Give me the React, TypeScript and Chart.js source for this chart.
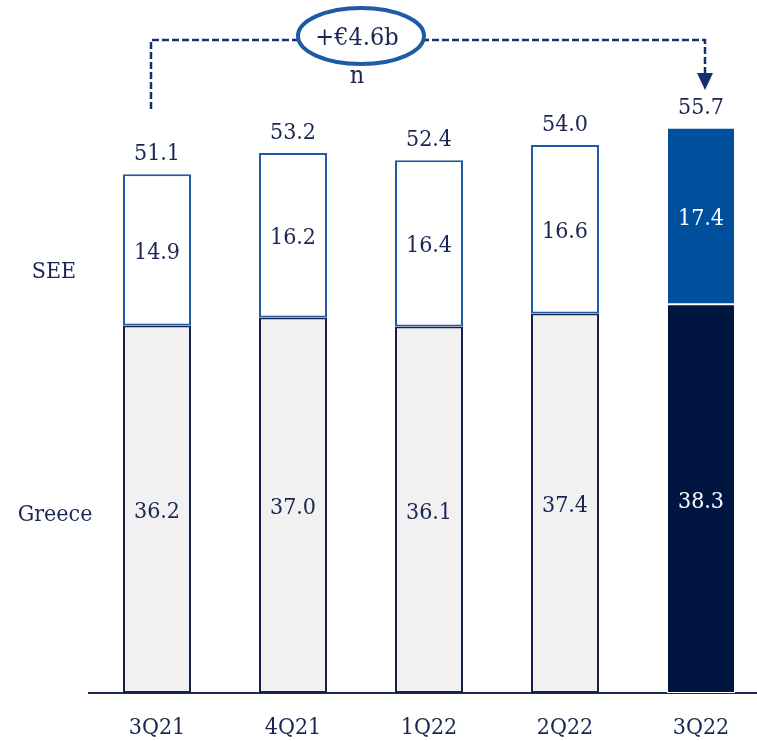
import React, { useEffect, useRef } from "react";
import { Chart, registerables } from "chart.js";
Chart.register(...registerables);

const categories = ["3Q21", "4Q21", "1Q22", "2Q22", "3Q22"];
const greece = [36.2, 37.0, 36.1, 37.4, 38.3];
const see = [14.9, 16.2, 16.4, 16.6, 17.4];
const totals = ["51.1", "53.2", "52.4", "54.0", "55.7"];
const seriesNames = ["Greece", "SEE"];
const changeLabel = "+€4.6b";
const changeLabelWrap = "n";

const NAVY = "#1b2553";
const FAMILY = "'DejaVu Serif Condensed', 'DejaVu Serif'";
const FONT = "23px " + FAMILY;
const last = categories.length - 1;

const labelsPlugin = {
  id: "labelsPlugin",
  afterDatasetsDraw(chart: any) {
    const ctx = chart.ctx;
    const y = chart.scales.y;
    ctx.save();
    ctx.font = FONT;
    ctx.textAlign = "center";
    ctx.textBaseline = "middle";
    chart.data.datasets.forEach((ds: any, di: number) => {
      const meta = chart.getDatasetMeta(di);
      meta.data.forEach((el: any, i: number) => {
        ctx.fillStyle = i === last ? "#ffffff" : NAVY;
        ctx.fillText(Number(ds.data[i]).toFixed(1), el.x, (el.y + el.base) / 2 + 3);
        if (di === chart.data.datasets.length - 1) {
          ctx.fillStyle = NAVY;
          ctx.fillText(totals[i], el.x, el.y - 20);
        }
      });
    });
    ctx.fillStyle = NAVY;
    ctx.fillText(seriesNames[1], 54, y.getPixelForValue(41.5));
    ctx.fillText(seriesNames[0], 55, y.getPixelForValue(17.5));
    ctx.restore();
  },
  afterDraw(chart: any) {
    const ctx = chart.ctx;
    const x = chart.scales.x;
    const x0 = x.getPixelForValue(0) - 6;
    const x1 = x.getPixelForValue(last) + 4;
    const lineY = 40;
    ctx.save();
    ctx.strokeStyle = "#15306b";
    ctx.lineWidth = 2.5;
    ctx.setLineDash([7, 3]);
    ctx.beginPath();
    ctx.moveTo(x0, 109);
    ctx.lineTo(x0, lineY);
    ctx.lineTo(x1, lineY);
    ctx.lineTo(x1, 74);
    ctx.stroke();
    ctx.setLineDash([]);
    ctx.fillStyle = "#15306b";
    ctx.beginPath();
    ctx.moveTo(x1 - 8, 73);
    ctx.lineTo(x1 + 8, 73);
    ctx.lineTo(x1, 90);
    ctx.closePath();
    ctx.fill();
    const cx = 361, cy = 36;
    ctx.beginPath();
    ctx.ellipse(cx, cy, 63, 28, 0, 0, Math.PI * 2);
    ctx.fillStyle = "#ffffff";
    ctx.fill();
    ctx.lineWidth = 4;
    ctx.strokeStyle = "#1f5aa5";
    ctx.stroke();
    ctx.fillStyle = NAVY;
    ctx.font = "25px " + FAMILY;
    ctx.textAlign = "center";
    ctx.textBaseline = "middle";
    ctx.fillText(changeLabel, cx - 4, cy + 2);
    ctx.fillText(changeLabelWrap, cx - 4, 76);
    ctx.restore();
  },
};

export default function App() {
  const ref = useRef<HTMLCanvasElement>(null);
  useEffect(() => {
    document.body.style.margin = "0";
    document.body.style.overflow = "hidden";
    const canvas = ref.current!;
    const chart = new Chart(canvas, {
      type: "bar",
      data: {
        labels: categories,
        datasets: [
          {
            label: seriesNames[0],
            data: greece,
            backgroundColor: categories.map((_, i) => (i === last ? "#00153f" : "#f1f1f1")),
            borderColor: categories.map((_, i) => (i === last ? "#ffffff" : "#15204d")),
            borderWidth: categories.map((_, i) => (i === last ? 1 : 2)),
            borderSkipped: false,
            barPercentage: 0.5,
            categoryPercentage: 1,
          },
          {
            label: seriesNames[1],
            data: see,
            backgroundColor: categories.map((_, i) => (i === last ? "#004f9c" : "#ffffff")),
            borderColor: categories.map((_, i) => (i === last ? "#ffffff" : "#1f5aa5")),
            borderWidth: categories.map((_, i) => (i === last ? 1 : 2)),
            borderSkipped: false,
            barPercentage: 0.5,
            categoryPercentage: 1,
          },
        ],
      },
      options: {
        animation: false,
        responsive: false,
        devicePixelRatio: 1,
        layout: { padding: { left: 89, right: 11, top: 84, bottom: 0 } },
        plugins: { legend: { display: false }, tooltip: { enabled: false } },
        scales: {
          x: {
            stacked: true,
            grid: { display: false, drawTicks: false },
            border: { display: true, color: "#1d2b55", width: 2 },
            ticks: { color: NAVY, font: { family: FAMILY, size: 23 }, padding: 21 },
            afterFit: (s: any) => {
              s.height = 48;
            },
          },
          y: { stacked: true, display: false, min: 0, max: 60 },
        },
      },
      plugins: [labelsPlugin],
    });
    return () => chart.destroy();
  }, []);
  return (
    <div style={{ position: "fixed", left: 0, top: 0, width: 757, height: 741, overflow: "hidden", background: "#fff" }}>
      <canvas ref={ref} width={780} height={741} style={{ display: "block" }} />
    </div>
  );
}
